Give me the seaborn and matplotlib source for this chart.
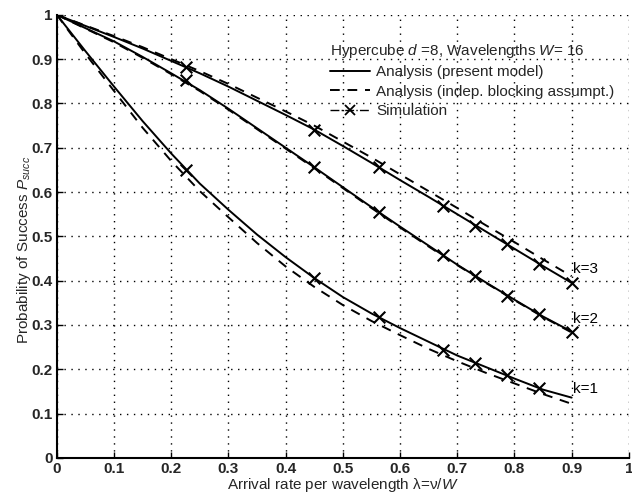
import matplotlib
matplotlib.use("Agg")
import matplotlib.pyplot as plt
import seaborn as sns
import pandas as pd
from matplotlib.lines import Line2D

# ---- data ----
lam = [0.0, 0.05, 0.1, 0.15, 0.2, 0.25, 0.3, 0.35, 0.4, 0.45, 0.5, 0.55,
       0.6, 0.65, 0.7, 0.75, 0.8, 0.85, 0.9]

k3_model = [1.0, 0.975, 0.95, 0.924, 0.896, 0.868, 0.838, 0.806, 0.774, 0.741,
            0.704, 0.666, 0.627, 0.589, 0.55, 0.511, 0.472, 0.433, 0.395]
k3_indep = [1.0, 0.976, 0.952, 0.927, 0.900, 0.873, 0.844, 0.813, 0.782, 0.750,
            0.714, 0.678, 0.640, 0.602, 0.564, 0.525, 0.487, 0.448, 0.410]
k2_model = [1.0, 0.970, 0.940, 0.905, 0.868, 0.830, 0.788, 0.744, 0.700, 0.656,
            0.611, 0.566, 0.522, 0.479, 0.436, 0.396, 0.357, 0.319, 0.285]
k2_indep = [1.0, 0.969, 0.938, 0.903, 0.866, 0.828, 0.786, 0.742, 0.698, 0.654,
            0.609, 0.564, 0.520, 0.477, 0.435, 0.395, 0.356, 0.318, 0.283]
k1_model = [1.0, 0.918, 0.838, 0.760, 0.687, 0.619, 0.560, 0.504, 0.453, 0.406,
            0.363, 0.326, 0.293, 0.262, 0.231, 0.205, 0.179, 0.154, 0.136]
k1_indep = [1.0, 0.912, 0.828, 0.745, 0.670, 0.602, 0.543, 0.485, 0.432, 0.386,
            0.345, 0.309, 0.277, 0.246, 0.218, 0.192, 0.168, 0.144, 0.122]

sim_lam = [0.225, 0.45, 0.5625, 0.675, 0.73125, 0.7875, 0.84375, 0.9]
k3_sim = [0.882, 0.741, 0.656, 0.569, 0.524, 0.483, 0.438, 0.395]
k2_sim = [0.852, 0.656, 0.555, 0.457, 0.410, 0.366, 0.325, 0.285]
k1_sim_lam = [0.225, 0.45, 0.5625, 0.675, 0.73125, 0.7875, 0.84375]
k1_sim = [0.649, 0.407, 0.318, 0.244, 0.214, 0.186, 0.157]

k_labels = ["k=3", "k=2", "k=1"]
k_label_y = [0.427, 0.314, 0.156]
ticks = [0, 0.1, 0.2, 0.3, 0.4, 0.5, 0.6, 0.7, 0.8, 0.9, 1]
tick_labels = ["0", "0.1", "0.2", "0.3", "0.4", "0.5", "0.6", "0.7", "0.8", "0.9", "1"]

# ---- style ----
sns.set_theme(style="white")
plt.rcParams["font.family"] = ["Liberation Sans", "DejaVu Sans"]
plt.rcParams["mathtext.fontset"] = "custom"
plt.rcParams["mathtext.rm"] = "Liberation Sans"
plt.rcParams["mathtext.it"] = "Liberation Sans:italic"

fig = plt.figure(figsize=(6.32, 4.95), dpi=100)
ax = fig.add_axes([0.090, 0.075, 0.905, 0.895])

lw = 1.4
dash = (0, (5, 4))
for model, indep in [(k3_model, k3_indep), (k2_model, k2_indep), (k1_model, k1_indep)]:
    df_m = pd.DataFrame({"x": lam, "y": model})
    df_i = pd.DataFrame({"x": lam, "y": indep})
    sns.lineplot(data=df_m, x="x", y="y", ax=ax, color="black", lw=lw,
                 estimator=None, sort=False)
    sns.lineplot(data=df_i, x="x", y="y", ax=ax, color="black", lw=lw,
                 estimator=None, sort=False, linestyle=dash)

for sx, sy in [(sim_lam, k3_sim), (sim_lam, k2_sim), (k1_sim_lam, k1_sim)]:
    df_s = pd.DataFrame({"x": sx, "y": sy})
    sns.scatterplot(data=df_s, x="x", y="y", ax=ax, color="black", marker="x",
                    s=70, linewidth=1.5, zorder=5)

for lab, yy in zip(k_labels, k_label_y):
    ax.text(0.903, yy, lab, fontsize=11, va="center", ha="left", color="black")

ax.set_xlim(0, 1)
ax.set_ylim(0, 1)
ax.set_xticks(ticks)
ax.set_xticklabels(tick_labels, fontsize=11, fontweight="bold")
ax.set_yticks(ticks)
ax.set_yticklabels(tick_labels, fontsize=11, fontweight="bold")
ax.tick_params(direction="in", length=4, width=1.0, color="black", pad=3,
               bottom=True, left=True)
ax.grid(True, color="black", linestyle=(0, (1, 4)), linewidth=1.0)
ax.set_axisbelow(True)
for s in ["top", "right"]:
    ax.spines[s].set_visible(False)
for s in ["left", "bottom"]:
    ax.spines[s].set_color("black")
    ax.spines[s].set_linewidth(1.5)

ax.set_xlabel("Arrival rate per wavelength λ=ν/$W$", fontsize=11)
ax.xaxis.label.set_va("center")
ax.xaxis.set_label_coords(0.5, -0.062)
ax.set_ylabel("Probability of Success $P_{succ}$", fontsize=11)
ax.yaxis.label.set_va("center")
ax.yaxis.set_label_coords(-0.058, 0.47)

handles = [
    Line2D([], [], color="black", lw=lw),
    Line2D([], [], color="black", lw=lw, linestyle=dash),
    Line2D([], [], color="black", lw=1.0, linestyle="-.", marker="x",
           markersize=7, markeredgewidth=1.3),
]
labels = ["Analysis (present model)", "Analysis (indep. blocking assumpt.)", "Simulation"]
leg = ax.legend(handles, labels, title="Hypercube $d$ =8, Wavelengths $W$= 16",
                loc="upper right", bbox_to_anchor=(0.993, 0.963), frameon=False,
                fontsize=11, title_fontsize=11, handlelength=2.6,
                handletextpad=0.4, labelspacing=0.35, borderpad=0.2)
leg._legend_box.align = "left"

fig.savefig("out.png", dpi=100)
